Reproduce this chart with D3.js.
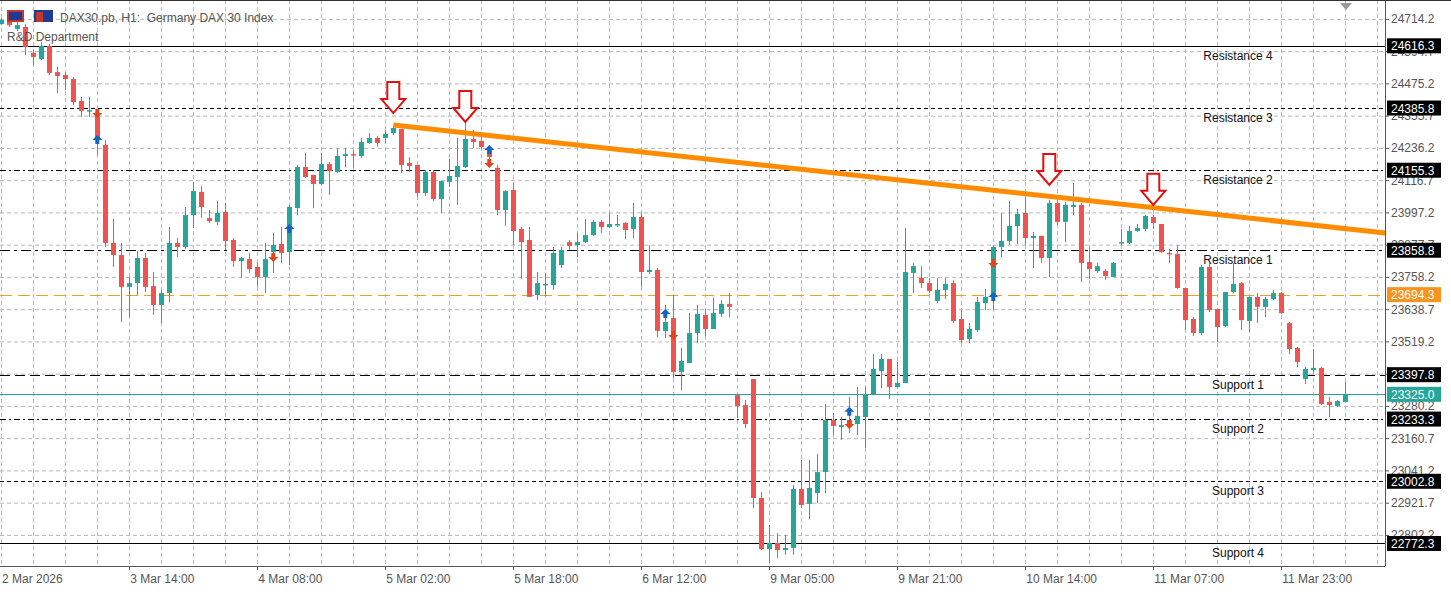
<!DOCTYPE html>
<html>
<head>
<meta charset="utf-8">
<script src="https://cdnjs.cloudflare.com/ajax/libs/d3/7.8.5/d3.min.js"></script>
<style>
  body{margin:0;background:#fff;}
  text{font-family:"Liberation Sans",Arial,sans-serif;white-space:pre;}
</style>
</head>
<body>
<svg id="chart" width="1451" height="596"></svg>
<script>
// ------------------------------------------------------------ data (H1 candles)
var opens = [24697,24708,24679,24686,24590,24567,24616,24519,24508,24493,24412,24375,24356,24249,23886,23841,23723,23737,23830,23726,
  23656,23700,23886,23871,23989,24075,23978,23964,24001,23897,23819,23826,23797,23760,23852,23882,23852,24015,24167,24138,
  24104,24178,24149,24208,24215,24208,24256,24275,24275,24293,24308,24182,24175,24071,24149,24049,24112,24130,24167,24271,
  24264,24230,24164,24008,24082,23938,23897,23693,23730,23730,23804,23889,23878,23889,23915,23964,23945,23952,23960,23938,
  23982,23778,23786,23560,23608,23408,23441,23552,23619,23567,23623,23660,23322,23285,23382,22941,22752,22774,22748,22756,
  22974,22919,22959,23037,23230,23204,23230,23215,23241,23326,23411,23456,23352,23367,23775,23756,23737,23671,23712,23737,
  23604,23530,23563,23663,23693,23871,23893,23949,23997,23904,23912,23830,24034,23964,24019,24027,23815,23782,23782,23760,
  23886,23886,23930,23938,23982,23956,23849,23845,23719,23604,23552,23797,23641,23578,23704,23737,23597,23686,23649,23678,
  23700,23589,23497,23382,23415,23423,23297,23282,23297];
var highs = [24719,24716,24705,24697,24601,24630,24623,24538,24519,24501,24427,24427,24367,24267,23975,23886,23760,23856,23849,23778,
  23712,23945,23904,24019,24112,24097,24008,24041,24034,23904,23834,23849,23815,23886,23923,23945,24027,24175,24219,24138,
  24219,24186,24238,24238,24230,24275,24293,24282,24304,24319,24308,24204,24175,24156,24156,24115,24197,24275,24360,24304,
  24286,24249,24175,24082,24108,23945,23945,23778,23775,23871,23871,23897,23923,23975,23971,23971,23997,23989,23964,24034,
  23997,23878,23793,23656,23693,23497,23626,23656,23641,23682,23674,23700,23322,23304,23382,22963,22841,22811,22804,22989,
  23082,23082,23104,23289,23256,23241,23315,23352,23352,23474,23474,23456,23445,23941,23812,23800,23756,23756,23756,23749,
  23637,23589,23686,23715,23878,23997,24041,24012,24056,23926,23912,24045,24045,24038,24108,24034,23871,23812,23789,23815,
  23938,23949,23956,23989,23989,23956,23864,23878,23719,23611,23804,23812,23641,23704,23812,23741,23686,23700,23686,23712,
  23704,23593,23500,23426,23493,23426,23315,23304,23371];
var lows = [24693,24686,24671,24582,24545,24564,24508,24441,24453,24397,24353,24353,24212,23871,23797,23593,23611,23693,23704,23619,
  23589,23667,23834,23864,23941,23978,23960,23952,23860,23797,23756,23775,23723,23700,23775,23812,23804,23989,24127,24015,
  24101,24064,24145,24167,24164,24201,24253,24241,24256,24286,24145,24149,24056,24060,24041,23997,24093,24027,24164,24238,
  24230,24175,23989,23949,23878,23752,23686,23674,23689,23712,23793,23860,23834,23886,23912,23923,23941,23945,23901,23904,
  23723,23771,23537,23534,23385,23341,23441,23515,23541,23567,23611,23611,23237,23200,22904,22748,22700,22719,22730,22730,
  22904,22863,22922,22959,23174,23156,23182,23174,23126,23322,23348,23308,23348,23367,23700,23719,23700,23663,23678,23589,
  23515,23515,23556,23637,23637,23834,23878,23882,23878,23793,23812,23760,23952,23889,23989,23741,23752,23775,23749,23760,
  23878,23882,23926,23930,23938,23849,23812,23715,23563,23541,23545,23630,23519,23574,23700,23563,23556,23589,23611,23674,
  23623,23474,23426,23363,23404,23285,23241,23278,23297];
var closes = [24712,24693,24693,24612,24575,24616,24516,24504,24493,24408,24375,24378,24275,23886,23841,23723,23737,23830,23723,23656,
  23700,23886,23871,23989,24078,24019,23967,23997,23893,23819,23830,23789,23760,23826,23878,23849,24019,24167,24130,24104,
  24178,24152,24208,24215,24212,24260,24275,24256,24290,24312,24175,24171,24071,24149,24049,24115,24134,24171,24271,24260,
  24241,24204,24008,24078,23930,23889,23686,23737,23734,23849,23860,23875,23889,23915,23964,23945,23956,23956,23934,23982,
  23778,23786,23560,23593,23408,23449,23552,23623,23567,23626,23660,23649,23282,23215,22941,22752,22774,22748,22756,22974,
  22915,22978,23037,23230,23208,23211,23204,23245,23326,23419,23456,23352,23367,23778,23800,23737,23708,23712,23734,23597,
  23526,23567,23667,23686,23871,23893,23949,23993,23904,23912,23830,24034,23964,24027,24027,23812,23789,23800,23763,23812,
  23889,23930,23941,23986,23960,23852,23845,23719,23600,23552,23797,23637,23574,23704,23734,23600,23686,23649,23678,23700,
  23626,23493,23445,23419,23423,23289,23285,23300,23325];

var priceTicks = ["24714.2","24594.7","24475.2","24355.7","24236.2","24116.7","23997.2","23877.7","23758.2",
  "23638.7","23519.2","23399.7","23280.2","23160.7","23041.2","22921.7","22802.2"];
var timeLabels = ["2 Mar 2026","3 Mar 14:00","4 Mar 08:00","5 Mar 02:00","5 Mar 18:00","6 Mar 12:00",
  "9 Mar 05:00","9 Mar 21:00","10 Mar 14:00","11 Mar 07:00","11 Mar 23:00"];

var levelNames  = ["Resistance 4","Resistance 3","Resistance 2","Resistance 1","Support 1","Support 2","Support 3","Support 4"];
var levelPrices = [24616.3,24385.8,24155.3,23858.8,23397.8,23233.3,23002.8,22772.3];
var levelDash   = ["none","4,3","6,3,2,3","10,4,3,4","10,5","6,3,2,3","4,3","none"];

var pivotPrice = 23694.3, lastPrice = 23325.0;
var trendLine = [[49,24323],[173,23923]];           // [bar, price]
var bigArrows = [[49,24367],[58,24334],[131,24101],[144,24027]];
var signals = [[12,24367,"dn"],[12,24267,"up"],[34,23834,"dn"],[36,23938,"up"],[61,24230,"up"],[61,24182,"dn"],
  [83,23623,"up"],[84,23545,"dn"],[106,23260,"up"],[106,23215,"dn"],[124,23812,"dn"],[124,23686,"up"]];

//--------------------------------------------------------------
var svg = d3.select("#chart"),
    plotR = 1385, plotB = 566;

var x = d3.scaleLinear().domain([0,1]).range([1.3,9.3]);
var y = d3.scaleLinear().domain([24786,22786]).range([0,539.8]);

var up = "#26a69a", dn = "#ef5350";

// grid
svg.selectAll(".hg").data(priceTicks).enter().append("line")
  .attr("x1",0).attr("x2",plotR).attr("y1",function(d){return y(+d)}).attr("y2",function(d){return y(+d)})
  .attr("stroke","#b8b8b8").attr("stroke-dasharray","4,3");
svg.selectAll(".vg").data(d3.range(0,44)).enter().append("line")
  .attr("x1",function(d){return Math.round(x(d*4))+0.5}).attr("x2",function(d){return Math.round(x(d*4))+0.5})
  .attr("y1",0).attr("y2",plotB).attr("stroke","#b8b8b8").attr("stroke-dasharray","4,3");

// levels
levelPrices.forEach(function(p,i){
  svg.append("line").attr("x1",0).attr("x2",plotR).attr("y1",Math.round(y(p))+0.5).attr("y2",Math.round(y(p))+0.5)
    .attr("stroke","#000").attr("stroke-dasharray",levelDash[i]);
  svg.append("text").attr("x",1238).attr("y",y(p)+14).attr("text-anchor","middle")
    .attr("font-size",12).attr("fill","#111").text(levelNames[i]);
});
svg.append("line").attr("x1",0).attr("x2",plotR).attr("y1",Math.round(y(pivotPrice))+0.5).attr("y2",Math.round(y(pivotPrice))+0.5)
  .attr("stroke","#f0a020").attr("stroke-dasharray","12,6");
svg.append("line").attr("x1",0).attr("x2",plotR).attr("y1",Math.round(y(lastPrice))+0.5).attr("y2",Math.round(y(lastPrice))+0.5)
  .attr("stroke",up);

// candles
var bars = d3.range(opens.length);
var g = svg.append("g");
g.selectAll(".wick").data(bars).enter().append("line")
  .attr("x1",function(i){return Math.round(x(i))+0.5}).attr("x2",function(i){return Math.round(x(i))+0.5})
  .attr("y1",function(i){return y(highs[i])}).attr("y2",function(i){return y(lows[i])})
  .attr("stroke",function(i){return closes[i]>=opens[i]?up:dn});
g.selectAll(".body").data(bars).enter().append("rect")
  .attr("x",function(i){return Math.round(x(i))-2}).attr("width",5)
  .attr("y",function(i){return y(Math.max(opens[i],closes[i]))})
  .attr("height",function(i){return Math.max(1.5,Math.abs(y(opens[i])-y(closes[i])))})
  .attr("fill",function(i){return closes[i]>=opens[i]?up:dn});

// trend line
svg.append("line").attr("x1",x(trendLine[0][0])).attr("y1",y(trendLine[0][1]))
  .attr("x2",x(trendLine[1][0])).attr("y2",y(trendLine[1][1]))
  .attr("stroke","#ff8c00").attr("stroke-width",5);

// big hollow arrows
bigArrows.forEach(function(a){
  var cx = x(a[0]), ty = y(a[1]);
  var pts = [[cx-6,ty-31],[cx+6,ty-31],[cx+6,ty-14],[cx+12,ty-14],[cx,ty],[cx-12,ty-14],[cx-6,ty-14]];
  svg.append("polygon").attr("points",pts.join(" ")).attr("fill","#fff").attr("stroke","#e01010").attr("stroke-width",2);
});

// small signal arrows
signals.forEach(function(s){
  var cx = x(s[0]), cy = y(s[1]), pts;
  if(s[2]=="up") pts = [[cx,cy-5],[cx+5,cy],[cx+2,cy],[cx+2,cy+4],[cx-2,cy+4],[cx-2,cy],[cx-5,cy]];
  else pts = [[cx,cy+5],[cx+5,cy],[cx+2,cy],[cx+2,cy-4],[cx-2,cy-4],[cx-2,cy],[cx-5,cy]];
  svg.append("polygon").attr("points",pts.join(" ")).attr("fill",s[2]=="up"?"#1565c0":"#e0461e");
});

// axes frame
svg.append("line").attr("x1",plotR+0.5).attr("x2",plotR+0.5).attr("y1",0).attr("y2",plotB).attr("stroke","#555");
svg.append("line").attr("x1",0).attr("x2",plotR).attr("y1",plotB+0.5).attr("y2",plotB+0.5).attr("stroke","#555");
svg.append("line").attr("x1",0).attr("x2",1451).attr("y1",0.5).attr("y2",0.5).attr("stroke","#333");
svg.append("polygon").attr("points","1340,3 1352,3 1346,10").attr("fill","#999");

// price axis
svg.selectAll(".pt").data(priceTicks).enter().append("text")
  .attr("x",plotR+6).attr("y",function(d){return y(+d)+4})
  .attr("font-size",12).attr("fill","#555").text(function(d){return d});
svg.selectAll(".ptk").data(priceTicks).enter().append("line")
  .attr("x1",plotR).attr("x2",plotR+4).attr("y1",function(d){return y(+d)}).attr("y2",function(d){return y(+d)}).attr("stroke","#555");

function priceBox(p,bg){
  var yy = y(p);
  svg.append("rect").attr("x",plotR+2).attr("y",yy-7.5).attr("width",54).attr("height",15).attr("fill",bg);
  svg.append("text").attr("x",plotR+6).attr("y",yy+4.5).attr("font-size",12).attr("fill","#fff").text(p.toFixed(1));
}
levelPrices.forEach(function(p){ priceBox(p,"#000") });
priceBox(pivotPrice,"#f7931e");
priceBox(lastPrice,up);

// time axis
timeLabels.forEach(function(t,k){
  var xx = x(k*16);
  if(k>0) svg.append("line").attr("x1",Math.round(xx)+0.5).attr("x2",Math.round(xx)+0.5)
    .attr("y1",plotB).attr("y2",plotB+4).attr("stroke","#555");
  svg.append("text").attr("x",k==0?2:xx+1).attr("y",plotB+17).attr("font-size",12).attr("fill","#555").text(t);
});

// header
svg.append("rect").attr("x",7).attr("y",10).attr("width",17).attr("height",12).attr("fill","#c0392b");
svg.append("rect").attr("x",9).attr("y",12).attr("width",13).attr("height",8).attr("fill","#1f3a93");
svg.append("rect").attr("x",34).attr("y",10).attr("width",19).attr("height",12).attr("fill","#1f3a93");
svg.append("rect").attr("x",36).attr("y",12).attr("width",7).attr("height",10).attr("fill","#c0392b");
svg.append("text").attr("x",60).attr("y",22).attr("font-size",12).attr("fill","#555")
  .text("DAX30.pb, H1:  Germany DAX 30 Index");
svg.append("text").attr("x",7).attr("y",41).attr("font-size",12).attr("fill","#555").text("R&D Department");
</script>
</body>
</html>
